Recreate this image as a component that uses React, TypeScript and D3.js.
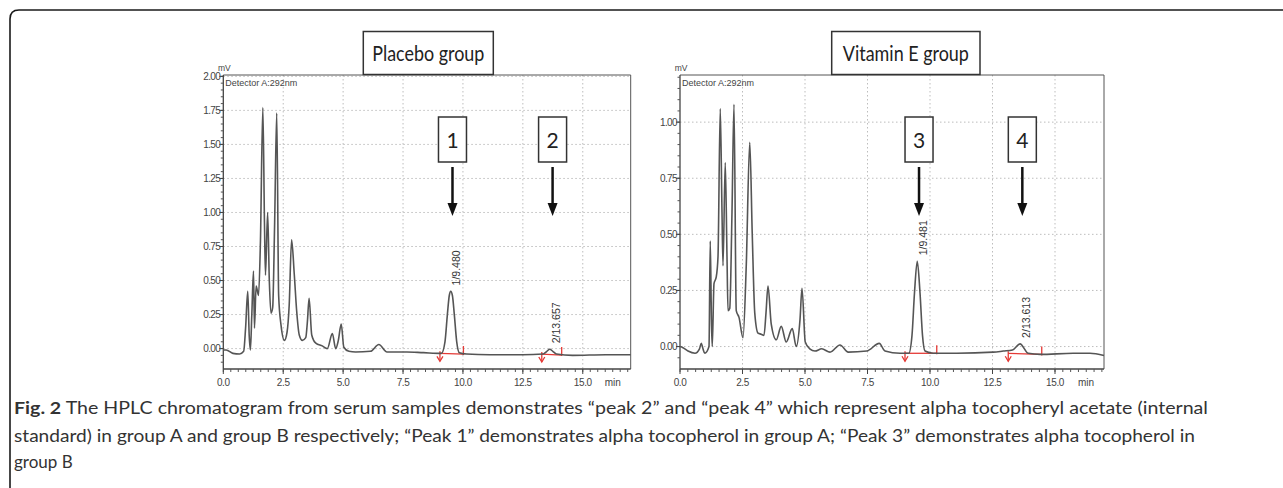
import React from "react";
import * as d3 from "d3";

// ---------- DATA ----------
const placeboTime = [0.0, 0.12, 0.4, 0.68, 0.85, 0.93, 1.02, 1.08, 1.13, 1.19, 1.26, 1.3, 1.37, 1.47, 1.55, 1.65, 1.72, 1.76, 1.85, 1.92, 1.99, 2.06, 2.14, 2.23, 2.31, 2.41, 2.55, 2.66, 2.75, 2.85, 2.96, 3.06, 3.17, 3.3, 3.44, 3.51, 3.58, 3.69, 3.86, 4.13, 4.34, 4.55, 4.69, 4.8, 4.92, 5.03, 5.24, 5.52, 6.14, 6.49, 6.83, 7.66, 8.35, 9.1, 9.25, 9.35, 9.43, 9.49, 9.56, 9.64, 9.74, 9.85, 10.15, 11.12, 12.5, 13.35, 13.5, 13.62, 13.75, 13.9, 14.58, 15.96, 17.0];
const placeboSignal = [-0.01, -0.01, -0.035, -0.04, -0.02, 0.15, 0.42, 0.1, -0.01, 0.25, 0.57, 0.15, 0.46, 0.39, 0.79, 1.77, 0.9, 0.54, 1.0, 0.5, 0.26, 0.3, 0.9, 1.73, 0.39, 0.17, 0.06, 0.12, 0.32, 0.8, 0.55, 0.28, 0.1, 0.06, 0.08, 0.2, 0.37, 0.1, 0.04, 0.02, 0.0, 0.11, 0.0, 0.06, 0.18, 0.01, -0.02, -0.025, -0.02, 0.03, -0.025, -0.025, -0.03, -0.035, 0.05, 0.25, 0.39, 0.42, 0.39, 0.25, 0.05, -0.03, -0.04, -0.045, -0.045, -0.04, -0.02, -0.005, -0.02, -0.04, -0.05, -0.045, -0.045];

const vitaminTime = [0.0, 0.12, 0.32, 0.6, 0.78, 0.85, 0.92, 0.99, 1.16, 1.21, 1.26, 1.29, 1.36, 1.45, 1.52, 1.61, 1.68, 1.72, 1.81, 1.88, 1.92, 1.99, 2.08, 2.16, 2.25, 2.36, 2.52, 2.65, 2.79, 2.89, 2.99, 3.12, 3.25, 3.36, 3.44, 3.52, 3.65, 3.85, 4.05, 4.25, 4.49, 4.65, 4.8, 4.88, 5.01, 5.19, 5.4, 5.67, 6.0, 6.4, 6.73, 7.47, 7.97, 8.2, 8.8, 9.15, 9.28, 9.38, 9.49, 9.6, 9.7, 9.8, 10.13, 11.07, 12.53, 12.93, 13.3, 13.6, 13.93, 14.4, 15.73, 16.4, 16.96];
const vitaminSignal = [0.0, -0.005, -0.02, -0.03, -0.01, 0.015, -0.01, -0.03, 0.0, 0.47, 0.1, 0.0, 0.28, 0.31, 0.4, 1.06, 0.6, 0.36, 0.82, 0.4, 0.16, 0.17, 0.6, 1.08, 0.16, 0.13, 0.04, 0.36, 0.91, 0.5, 0.15, 0.06, 0.055, 0.05, 0.15, 0.27, 0.1, 0.03, 0.09, 0.02, 0.08, 0.0, 0.12, 0.26, 0.02, -0.01, -0.02, -0.01, -0.025, 0.007, -0.025, -0.02, 0.014, -0.02, -0.03, -0.03, 0.05, 0.24, 0.38, 0.24, 0.05, -0.02, -0.03, -0.03, -0.025, -0.02, -0.015, 0.012, -0.03, -0.035, -0.03, -0.03, -0.04];

const xTickValues = [0, 2.5, 5, 7.5, 10, 12.5, 15];
const placeboYTicks = [0, 0.25, 0.5, 0.75, 1.0, 1.25, 1.5, 1.75, 2.0];
const vitaminYTicks = [0, 0.25, 0.5, 0.75, 1.0];

const placeboPeakLabels = ["1/9.480", "2/13.657"];
const placeboPeakTimes = [9.48, 13.657];
const placeboPeakHeights = [0.42, -0.005];
const placeboPeakNumbers = ["1", "2"];
const placeboIntegration = [[9.04, 10.02, -0.035, -0.04], [13.29, 14.12, -0.04, -0.048]];

const vitaminPeakLabels = ["1/9.481", "2/13.613"];
const vitaminPeakTimes = [9.481, 13.613];
const vitaminPeakHeights = [0.38, 0.012];
const vitaminPeakNumbers = ["3", "4"];
const vitaminIntegration = [[9.0, 10.27, -0.03, -0.03], [13.13, 14.47, -0.03, -0.035]];

const titles = ["Placebo group", "Vitamin E group"];
const captionBold = "Fig. 2";
const captionLine1 = " The HPLC chromatogram from serum samples demonstrates \u201Cpeak 2\u201D and \u201Cpeak 4\u201D which represent alpha tocopheryl acetate (internal";
const captionLine2 = "standard) in group A and group B respectively; \u201CPeak 1\u201D demonstrates alpha tocopherol in group A; \u201CPeak 3\u201D demonstrates alpha tocopherol in";
const captionLine3 = "group B";

// ---------- PANEL ----------
type PanelProps = {
  x0: number; x1: number; yTop: number; yBot: number;
  tMax: number; yMin: number; yMax: number;
  time: number[]; signal: number[]; yTicks: number[];
  peakLabels: string[]; peakTimes: number[]; peakHeights: number[];
  peakNumbers: string[]; integration: number[][];
  title: string; titleBox: [number, number]; titleWidth: number; minorStep: number;
};

function Panel(p: PanelProps) {
  const x = d3.scaleLinear().domain([0, p.tMax]).range([p.x0, p.x1]);
  const y = d3.scaleLinear().domain([p.yMin, p.yMax]).range([p.yBot, p.yTop]);
  const pts: [number, number][] = p.time.map((t, i) => [t, p.signal[i]]);
  const line = d3.line<[number, number]>().x(d => x(d[0])).y(d => y(d[1])).curve(d3.curveMonotoneX);
  const minorX = d3.range(0, p.tMax + 0.001, 2.5 / 8);
  const minorY = d3.range(0, p.yMax + 0.0001, p.minorStep).concat(d3.range(-p.minorStep, p.yMin, -p.minorStep));
  const tickFont = "'Liberation Sans', Arial, sans-serif";
  const boxFont = "Lato, 'Open Sans', sans-serif";
  return (
    <g>
      {/* grid */}
      {xTickValues.filter(v => v > 0).map(v => (
        <line key={"gx" + v} x1={x(v)} x2={x(v)} y1={p.yTop} y2={p.yBot} stroke="#bdbdbd" strokeWidth={1} strokeDasharray="1.5,2.5" />
      ))}
      {p.yTicks.map(v => (
        <line key={"gy" + v} x1={p.x0} x2={p.x1} y1={y(v)} y2={y(v)} stroke="#bdbdbd" strokeWidth={1} strokeDasharray="1.5,2.5" />
      ))}
      {/* frame */}
      <line x1={p.x0} x2={p.x1} y1={p.yTop} y2={p.yTop} stroke="#555" strokeWidth={1} />
      <line x1={p.x1} x2={p.x1} y1={p.yTop} y2={p.yBot} stroke="#555" strokeWidth={1} />
      <line x1={p.x0} x2={p.x0} y1={p.yTop} y2={p.yBot} stroke="#444" strokeWidth={1.3} />
      <line x1={p.x0} x2={p.x1} y1={p.yBot} y2={p.yBot} stroke="#444" strokeWidth={1.3} />
      {/* minor ticks */}
      {minorX.map((v, i) => (
        <line key={"mx" + i} x1={x(v)} x2={x(v)} y1={p.yBot} y2={p.yBot + 3} stroke="#555" strokeWidth={1} />
      ))}
      {minorY.map((v, i) => (
        <line key={"my" + i} x1={p.x0 - 2.5} x2={p.x0} y1={y(v)} y2={y(v)} stroke="#555" strokeWidth={1} />
      ))}
      {/* major ticks & labels */}
      {xTickValues.map(v => (
        <g key={"tx" + v}>
          <line x1={x(v)} x2={x(v)} y1={p.yBot} y2={p.yBot + 5} stroke="#444" strokeWidth={1} />
          <text x={x(v)} y={p.yBot + 17} textAnchor="middle" fontSize={10} fontFamily={tickFont} fill="#444" letterSpacing={-0.4}>{v.toFixed(1)}</text>
        </g>
      ))}
      <text x={x(p.tMax) - 18} y={p.yBot + 17} textAnchor="middle" fontSize={10} fontFamily={tickFont} fill="#444">min</text>
      {p.yTicks.map(v => (
        <g key={"ty" + v}>
          <line x1={p.x0 - 4} x2={p.x0} y1={y(v)} y2={y(v)} stroke="#444" strokeWidth={1} />
          <text x={p.x0 - 3} y={y(v) + 3.5} textAnchor="end" fontSize={10} fontFamily={tickFont} fill="#444" letterSpacing={-0.6}>{v.toFixed(2)}</text>
        </g>
      ))}
      <text x={p.x0 + 1} y={71} textAnchor="middle" fontSize={8.5} fontFamily={tickFont} fill="#444">mV</text>
      <text x={p.x0 + 2} y={86} fontSize={9.5} fontFamily={tickFont} fill="#444" textLength={72} lengthAdjust="spacingAndGlyphs">Detector A:292nm</text>
      {/* integration marks */}
      {p.integration.map((r, i) => {
        const xa = x(r[0]), xb = x(r[1]), ya = y(r[2]), yb = y(r[3]);
        return (
          <g key={"int" + i} stroke="#e53935" strokeWidth={1.3} fill="none">
            <line x1={xa} y1={ya} x2={xb} y2={yb} />
            <line x1={xa} y1={ya - 2} x2={xa} y2={ya + 8} />
            <line x1={xb} y1={yb + 1} x2={xb} y2={yb - 8} />
            <path d={`M${xa - 3},${ya + 3} L${xa},${ya + 8} L${xa + 3},${ya + 3}`} />
          </g>
        );
      })}
      {/* trace */}
      <path d={line(pts) || ""} fill="none" stroke="#555" strokeWidth={1.6} strokeLinejoin="round" />
      {/* peak labels */}
      {p.peakLabels.map((lab, i) => {
        const px = x(p.peakTimes[i]) + 9.5;
        const py = y(p.peakHeights[i]) - 6;
        return (
          <text key={"pl" + i} x={px} y={py} transform={`rotate(-90 ${px} ${py})`} fontSize={10.5} fontFamily={tickFont} fill="#333">{lab}</text>
        );
      })}
      {/* number boxes and arrows */}
      {p.peakNumbers.map((n, i) => {
        const cx = x(p.peakTimes[i]) + 2;
        return (
          <g key={"nb" + i}>
            <rect x={cx - 14} y={117} width={28} height={45} fill="#fff" stroke="#333" strokeWidth={1.5} />
            <text x={cx} y={148} textAnchor="middle" fontSize={21} fontFamily={boxFont} fill="#222">{n}</text>
            <line x1={cx} x2={cx} y1={167} y2={204} stroke="#111" strokeWidth={2.5} />
            <path d={`M${cx - 5},${203} L${cx + 5},${203} L${cx},${216} Z`} fill="#111" />
          </g>
        );
      })}
      {/* title */}
      <rect x={p.titleBox[0]} y={31.5} width={p.titleBox[1] - p.titleBox[0]} height={43} fill="#fff" stroke="#333" strokeWidth={1.5} />
      <text x={(p.titleBox[0] + p.titleBox[1]) / 2 - p.titleWidth / 2} y={61} fontSize={21} fontFamily={boxFont} fill="#222" textLength={p.titleWidth} lengthAdjust="spacingAndGlyphs">{p.title}</text>
    </g>
  );
}

export default function App() {
  const capFont = "Lato, 'Open Sans', sans-serif";
  return (
    <svg width={1283} height={488} style={{ position: "absolute", left: 0, top: 0, background: "#fff" }}>
      <rect x={0} y={0} width={1283} height={488} fill="#fff" />
      <path d="M10,488 L10,19 Q10,10 19,10 L1283,10" fill="none" stroke="#1a1a1a" strokeWidth={1.6} />
      <Panel x0={223.3} x1={630.7} yTop={75} yBot={369} tMax={17.0} yMin={-0.15} yMax={2.01}
        time={placeboTime} signal={placeboSignal} yTicks={placeboYTicks}
        peakLabels={placeboPeakLabels} peakTimes={placeboPeakTimes} peakHeights={placeboPeakHeights}
        peakNumbers={placeboPeakNumbers} integration={placeboIntegration}
        title={titles[0]} titleBox={[363.3, 493.3]} titleWidth={112} minorStep={0.05} />
      <Panel x0={680} x1={1104} yTop={75} yBot={369} tMax={16.96} yMin={-0.10} yMax={1.21}
        time={vitaminTime} signal={vitaminSignal} yTicks={vitaminYTicks}
        peakLabels={vitaminPeakLabels} peakTimes={vitaminPeakTimes} peakHeights={vitaminPeakHeights}
        peakNumbers={vitaminPeakNumbers} integration={vitaminIntegration}
        title={titles[1]} titleBox={[831.7, 980]} titleWidth={126} minorStep={0.05} />
      <text x={14} y={414} fontSize={17} fontFamily={capFont} fill="#333" textLength={1194} lengthAdjust="spacingAndGlyphs">
        <tspan fontWeight="bold">{captionBold}</tspan>{captionLine1}
      </text>
      <text x={14} y={442} fontSize={17} fontFamily={capFont} fill="#333" textLength={1181} lengthAdjust="spacingAndGlyphs">{captionLine2}</text>
      <text x={14} y={468} fontSize={17} fontFamily={capFont} fill="#333">{captionLine3}</text>
    </svg>
  );
}
